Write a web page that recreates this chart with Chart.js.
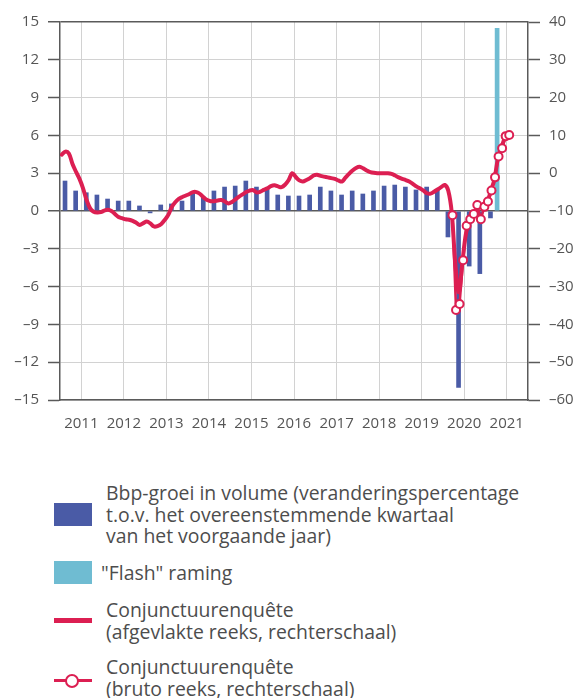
<!DOCTYPE html>
<html>
<head>
<meta charset="utf-8">
<script src="https://cdn.jsdelivr.net/npm/chart.js@4.4.1/dist/chart.umd.min.js"></script>
<style>
  html, body { margin:0; padding:0; background:#fff; }
  body { width:578px; height:698px; position:relative; overflow:hidden; font-family:'Open Sans', sans-serif; color:#4a4a4a; }
  #wrap { position:absolute; left:0; top:0; width:578px; height:440px; }
  .lg { position:absolute; font-size:19.4px; line-height:21.5px; color:#4d4d4d; white-space:nowrap; }
  .sw { position:absolute; }
</style>
</head>
<body>
<div id="wrap"><canvas id="c" width="578" height="440"></canvas></div>

<div class="sw" style="left:54px;top:503px;width:38px;height:23px;background:#4a5ba6"></div>
<div class="lg" style="left:106px;top:482px">Bbp-groei in volume (veranderingspercentage<br>t.o.v. het overeenstemmende kwartaal<br>van het voorgaande jaar)</div>

<div class="sw" style="left:54px;top:561px;width:38px;height:23px;background:#6fbcd2"></div>
<div class="lg" style="left:101px;top:562px">"Flash" raming</div>

<div class="sw" style="left:54px;top:618px;width:38px;height:5px;background:#dc1f52"></div>
<div class="lg" style="left:106px;top:599px">Conjunctuurenquête<br>(afgevlakte reeks, rechterschaal)</div>

<div class="sw" style="left:54px;top:679px;width:38px;height:3px;background:#dc1f52"></div>
<div class="sw" style="left:65px;top:674px;width:10px;height:10px;border:2.5px solid #dc1f52;border-radius:50%;background:#fff"></div>
<div class="lg" style="left:106px;top:656px">Conjunctuurenquête<br>(bruto reeks, rechterschaal)</div>

<script>
// ---- data ----
const years = ['2011','2012','2013','2014','2015','2016','2017','2018','2019','2020','2021'];
// quarterly GDP growth, 2011Q1 .. 2021Q1 (left axis, %)
const gdpGrowth = [
  2.38, 1.59, 1.45, 1.27,
  0.95, 0.79, 0.79, 0.40,
  -0.15, 0.48, 0.56, 0.79,
  1.43, 1.13, 1.59, 1.90,
  1.98, 2.38, 1.90, 1.70,
  1.27, 1.19, 1.19, 1.27,
  1.90, 1.59, 1.27, 1.59,
  1.35, 1.59, 1.98, 2.06,
  1.90, 1.67, 1.90, 1.67,
  -2.06, -14.0, -4.37, -4.97,
  -0.55
];
// flash estimate 2021Q2
const flashEstimate = [14.5];
const flashQuarterIndex = 41;
// business survey, smoothed, monthly from Jan 2011 (right axis)
const surveySmoothed = [
  4.9, 5.7, 5.2, 2.5, 0.4, -1.5, -4.0, -7.1, -9.3, -10.2, -10.4, -10.3,
  -9.9, -9.7, -10.0, -10.8, -11.6, -11.9, -12.2, -12.3, -12.6, -13.1, -13.7, -13.2,
  -12.8, -13.3, -14.1, -14.0, -13.5, -12.4, -11.1, -9.0, -7.7, -6.8, -6.3, -5.9,
  -5.5, -5.0, -5.0, -5.5, -6.4, -7.1, -7.4, -7.4, -7.2, -7.1, -7.5, -8.0,
  -7.6, -6.9, -6.2, -5.6, -5.0, -4.6, -4.5, -5.1, -4.9, -4.4, -4.0, -3.4,
  -3.2, -3.5, -3.7, -3.0, -1.8, 0.0, -1.0, -1.9, -2.2, -1.8, -1.3, -0.6,
  -0.4, -0.7, -0.9, -1.1, -1.3, -1.5, -1.9, -2.2, -1.2, -0.2, 0.7, 1.4,
  1.7, 1.3, 0.7, 0.3, 0.1, 0.0, 0.0, 0.0, 0.0, -0.2, -0.6, -1.1,
  -1.5, -1.8, -2.2, -2.8, -3.5, -4.0, -4.6, -5.3, -5.4, -4.9, -4.3, -3.7,
  -3.1, -4.6, -10.5, -24.0, -31.5, -23.5, -16.0, -12.8, -10.8, -9.6, -8.9, -8.2,
  -7.6, -4.7, -1.8, 3.8, 6.8, 9.5
];
// business survey, raw, monthly from Mar 2020 (right axis)
const rawStartMonth = 110;
const surveyRaw = [-11.1, -36.2, -34.6, -23.0, -13.9, -12.2, -10.8, -8.4, -12.2, -8.9, -7.5, -4.6, -1.1, 4.4, 6.6, 9.8, 10.1];

const leftTicks = { min: -15, max: 15, step: 3 };
const rightTicks = { min: -60, max: 40, step: 10 };

// ---- styles ----
const BLUE = '#4a5ba6', LIGHTBLUE = '#6fbcd2', RED = '#dc1f52';
const GRID = '#d2d2d2', AXIS = '#5a5a5a', TXT = '#555555';
const FONT = { family: "'Open Sans', sans-serif", size: 15 };
const dash = v => (v < 0 ? '\u2013' + Math.abs(v) : String(v));

const gdpPts = gdpGrowth.map((v, k) => ({ x: 3 * k + 0.85, y: v }));
const flashPts = flashEstimate.map((v, i) => ({ x: 3 * (flashQuarterIndex + i) + 0.85, y: v }));
const smoothPts = surveySmoothed.map((v, k) => ({ x: k + 0.5, y: v }));
const rawPts = surveyRaw.map((v, i) => ({ x: rawStartMonth + i + 0.7, y: v }));

new Chart(document.getElementById('c'), {
  data: {
    datasets: [
      { type: 'bar', data: gdpPts, backgroundColor: BLUE, barThickness: 4, yAxisID: 'y', order: 4 },
      { type: 'bar', data: flashPts, backgroundColor: LIGHTBLUE, barThickness: 4, yAxisID: 'y', order: 3 },
      { type: 'line', data: smoothPts, borderColor: RED, borderWidth: 4, pointRadius: 0, tension: 0.35,
        borderCapStyle: 'round', borderJoinStyle: 'round', yAxisID: 'y2', order: 2 },
      { type: 'line', data: rawPts, borderColor: RED, borderWidth: 2.5, pointRadius: 4, pointBorderWidth: 2,
        pointBackgroundColor: '#fff', pointBorderColor: RED, tension: 0, yAxisID: 'y2', order: 1 }
    ]
  },
  options: {
    responsive: false,
    animation: false,
    layout: { padding: { top: 22, left: 0, right: 0, bottom: 0 } },
    plugins: { legend: { display: false }, tooltip: { enabled: false } },
    scales: {
      x: {
        type: 'linear', min: 0, max: years.length * 12, offset: false,
        afterFit: s => { s.height = 40; },
        ticks: {
          stepSize: 12, autoSkip: false, maxRotation: 0, maxTicksLimit: 30,
          labelOffset: 21.3, padding: 15, color: TXT, font: FONT,
          callback: v => (v < years.length * 12 ? years[v / 12] : '')
        },
        grid: { color: GRID, lineWidth: 1, drawTicks: false },
        border: { display: true, color: AXIS, width: 1.5 }
      },
      y: {
        position: 'left', min: leftTicks.min, max: leftTicks.max,
        afterFit: s => { s.width = 60; },
        ticks: { stepSize: leftTicks.step, padding: 9, color: TXT, font: FONT, callback: dash },
        grid: {
          color: c => (c.tick && (c.tick.value === 0 || c.tick.value === leftTicks.max) ? AXIS : GRID),
          lineWidth: c => (c.tick && (c.tick.value === 0 || c.tick.value === leftTicks.max) ? 1.5 : 1),
          tickColor: AXIS, tickLength: 12, tickWidth: 1.5
        },
        border: { display: true, color: AXIS, width: 1.5 }
      },
      y2: {
        position: 'right', min: rightTicks.min, max: rightTicks.max,
        afterFit: s => { s.width = 50; },
        ticks: { stepSize: rightTicks.step, padding: 9, color: TXT, font: FONT, callback: dash },
        grid: { drawOnChartArea: false, tickColor: AXIS, tickLength: 12, tickWidth: 1.5 },
        border: { display: true, color: AXIS, width: 1.5 }
      }
    }
  }
});
</script>
</body>
</html>
